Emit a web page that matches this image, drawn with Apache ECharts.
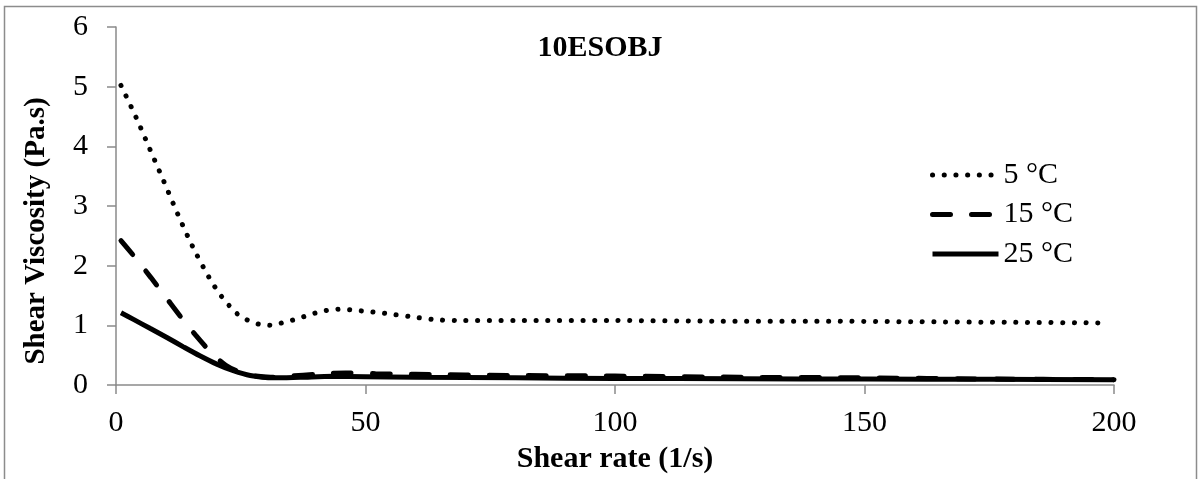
<!DOCTYPE html>
<html>
<head>
<meta charset="utf-8">
<script src="https://cdn.jsdelivr.net/npm/echarts@6/dist/echarts.min.js"></script>
<style>
html,body{margin:0;padding:0;background:#fff;}
#chart{width:1200px;height:479px;}
</style>
</head>
<body>
<div id="chart"></div>
<script>
// ---- data ----
const chartTitle = '10ESOBJ';
const seriesNames = ['5 °C', '15 °C', '25 °C'];

const rate5 = [1, 4, 6.8, 9.6, 12.4, 15.3, 18.6, 21.2, 24.2, 26.3, 28.6, 30.9, 33.2, 35.5, 37.8, 40.1, 42.3, 44.6, 47, 49.4, 51.7, 54, 58.7, 63.4, 68, 80, 100, 120, 140, 160, 180, 199];
const visc5 = [5.02, 4.49, 3.95, 3.41, 2.86, 2.33, 1.81, 1.48, 1.20, 1.09, 1.02, 1.00, 1.04, 1.09, 1.15, 1.21, 1.25, 1.27, 1.26, 1.24, 1.22, 1.20, 1.15, 1.10, 1.08, 1.08, 1.08, 1.07, 1.07, 1.06, 1.05, 1.04];

const rate15 = [1, 4, 7, 10, 13, 16, 19, 22, 25, 28, 31, 35, 40, 46, 52, 60, 80, 100, 125, 150, 175, 200];
const visc15 = [2.42, 2.12, 1.80, 1.47, 1.14, 0.83, 0.55, 0.33, 0.21, 0.15, 0.13, 0.15, 0.18, 0.20, 0.19, 0.18, 0.16, 0.15, 0.13, 0.12, 0.10, 0.09];

const rate25 = [1, 3.5, 6.8, 10.1, 13.5, 16.8, 20.2, 23.5, 26.9, 31.5, 36.9, 43.5, 50, 60, 80, 100, 125, 150, 175, 200];
const visc25 = [1.21, 1.10, 0.95, 0.80, 0.64, 0.49, 0.35, 0.24, 0.16, 0.12, 0.13, 0.145, 0.14, 0.13, 0.12, 0.11, 0.105, 0.10, 0.095, 0.09];

const xMin = 0, xMax = 200, xStep = 50;
const yMin = 0, yMax = 6, yStep = 1;
const xTitle = 'Shear rate (1/s)';
const yTitle = 'Shear Viscosity (Pa.s)';

// ---- build ----
const pairs = (xs, ys) => xs.map((x, i) => [x, ys[i]]);
const FONT = 'Liberation Serif, Times New Roman, serif';
const AXIS_GREY = '#8a8a8a';

const styles = [
  {color: '#000', width: 5, type: [0.1, 11.6], cap: 'round'},
  {color: '#000', width: 5, type: [18, 21], cap: 'round'},
  {color: '#000', width: 5, type: 'solid', cap: 'butt'}
];
const curves = [pairs(rate5, visc5), pairs(rate15, visc15), pairs(rate25, visc25)];

const chart = echarts.init(document.getElementById('chart'), null, {renderer: 'canvas'});
chart.setOption({
  backgroundColor: '#ffffff',
  animation: false,
  graphic: [{
    type: 'rect', silent: true, z: -1,
    shape: {x: 4.5, y: 6.5, width: 1192, height: 480},
    style: {fill: 'none', stroke: '#8c8c8c', lineWidth: 1.5}
  }],
  title: {
    text: chartTitle, left: 'center', top: 33, padding: 0,
    textStyle: {fontFamily: FONT, fontSize: 30, fontWeight: 'bold', color: '#000', lineHeight: 30}
  },
  legend: {
    orient: 'vertical', left: 925, top: 155,
    itemWidth: 66, itemHeight: 14, itemGap: 9.5,
    textStyle: {fontFamily: FONT, fontSize: 30, color: '#000', lineHeight: 30},
    itemStyle: {color: 'rgba(0,0,0,0)', borderWidth: 0, opacity: 0},
    data: seriesNames.map((n, i) => ({name: n, lineStyle: styles[i], itemStyle: {opacity: 0}}))
  },
  grid: {left: 116, right: 86, top: 27, bottom: 91, containLabel: false},
  xAxis: {
    type: 'value', min: xMin, max: xMax, interval: xStep,
    name: xTitle, nameLocation: 'middle', nameGap: 59,
    nameTextStyle: {fontFamily: FONT, fontSize: 30, fontWeight: 'bold', color: '#000', lineHeight: 30},
    axisLine: {show: true, lineStyle: {color: AXIS_GREY, width: 1.5}},
    axisTick: {show: true, inside: false, length: 9, lineStyle: {color: AXIS_GREY, width: 1.5}},
    axisLabel: {margin: 23, fontFamily: FONT, fontSize: 30, color: '#000', lineHeight: 30},
    splitLine: {show: false}
  },
  yAxis: {
    type: 'value', min: yMin, max: yMax, interval: yStep,
    name: yTitle, nameLocation: 'middle', nameGap: 64,
    nameTextStyle: {fontFamily: FONT, fontSize: 29, fontWeight: 'bold', color: '#000', lineHeight: 30, padding: [0, 50, 0, 0]},
    axisLine: {show: true, lineStyle: {color: AXIS_GREY, width: 1.5}},
    axisTick: {show: true, inside: false, length: 9, lineStyle: {color: AXIS_GREY, width: 1.5}},
    axisLabel: {margin: 28, fontFamily: FONT, fontSize: 30, color: '#000', lineHeight: 30},
    splitLine: {show: false}
  },
  series: seriesNames.map((n, i) => ({
    name: n, type: 'line', data: curves[i],
    smooth: 0.3, symbol: 'none', showSymbol: false,
    lineStyle: styles[i],
    itemStyle: {color: '#000'}
  }))
});
</script>
</body>
</html>
